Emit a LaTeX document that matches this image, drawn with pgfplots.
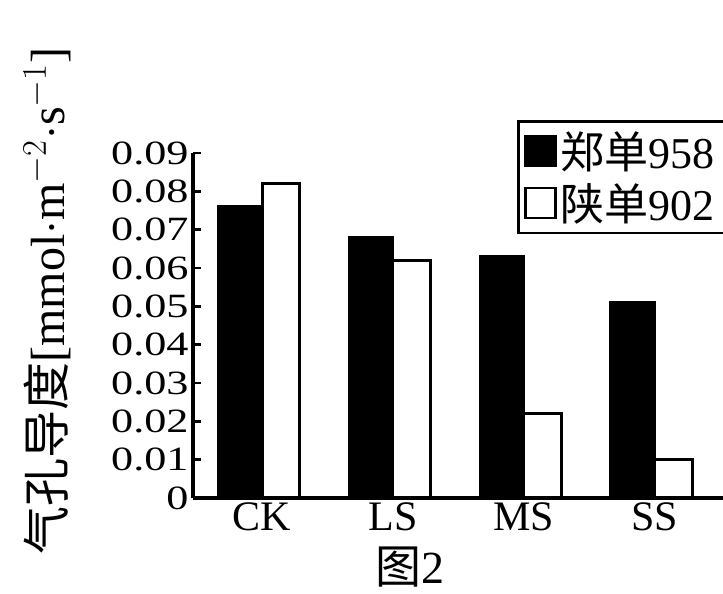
\documentclass[border=0pt]{standalone}
\usepackage{fontspec}
\setmainfont{Liberation Serif}
\newfontfamily\cjk{Noto Sans CJK SC}
\usepackage{pgfplots}
\usepackage{pgfplotstable}
\pgfplotsset{compat=1.18}

% stomatal conductance of the two maize cultivars under four treatments
\pgfplotstableread{
x zd958 sd902
0 0.076 0.082
1 0.068 0.062
2 0.063 0.022
3 0.051 0.010
}\conductance

\begin{document}
\begin{tikzpicture}
\begin{axis}[
  at={(96.5pt,48pt)}, anchor=south west,
  scale only axis, width=265pt, height=172.5pt,
  clip=false,
  xmin=-0.527, xmax=3.52, ymin=0, ymax=0.09,
  axis x line*=bottom, axis y line*=left,
  axis line style={line width=2pt},
  xtick={0,1,2,3}, xticklabels={CK,LS,MS,SS},
  x tick style={draw=none},
  scaled y ticks=false,
  ytick={0,0.01,0.02,0.03,0.04,0.05,0.06,0.07,0.08,0.09},
  yticklabels={0,0.01,0.02,0.03,0.04,0.05,0.06,0.07,0.08,0.09},
  y tick style={line width=1.2pt, black},
  tick align=inside, major tick length=4pt,
  /pgf/number format/assume math mode=true,
  xticklabel style={font=\fontsize{21}{21}\selectfont, inner ysep=2pt},
  yticklabel style={font=\fontsize{17}{17}\selectfont, inner xsep=1.5pt,
    inner ysep=0pt, xscale=1.3},
  ylabel={{\cjk 气孔导度}[mmol$\cdot$m$^{-2}\cdot$s$^{-1}$]},
  ylabel style={at={(axis description cs:-0.2755,0.571)}, anchor=center,
    font=\fontsize{24}{24}\selectfont},
  legend style={at={(axis description cs:0.611,1.096)}, anchor=north west,
    draw=black, line width=1.4pt, inner xsep=3pt, inner ysep=3pt,
    font=\fontsize{22}{24}\selectfont, row sep=2pt},
  legend cell align=left,
  legend image code/.code={\draw[#1, line width=1.2pt] (0pt,-7.5pt) rectangle (15pt,7.5pt);},
]
\addplot[ybar, fill=black, draw=black, line width=1.5pt,
  bar width=0.335, bar shift=-0.168] table[x=x, y=zd958]{\conductance};
\addlegendentry{{\cjk 郑单}958}
\addplot[ybar, fill=white, draw=black, line width=1.5pt,
  bar width=0.29, bar shift=0.145] table[x=x, y=sd902]{\conductance};
\addlegendentry{{\cjk 陕单}902}
\node[font=\fontsize{23}{23}\selectfont, inner sep=0pt] at (axis description cs:0.409,-0.2) {{\cjk 图}2};
\end{axis}
\pgfresetboundingbox
\path[use as bounding box] (0,0) rectangle (361.5pt,297pt);
\end{tikzpicture}
\end{document}
